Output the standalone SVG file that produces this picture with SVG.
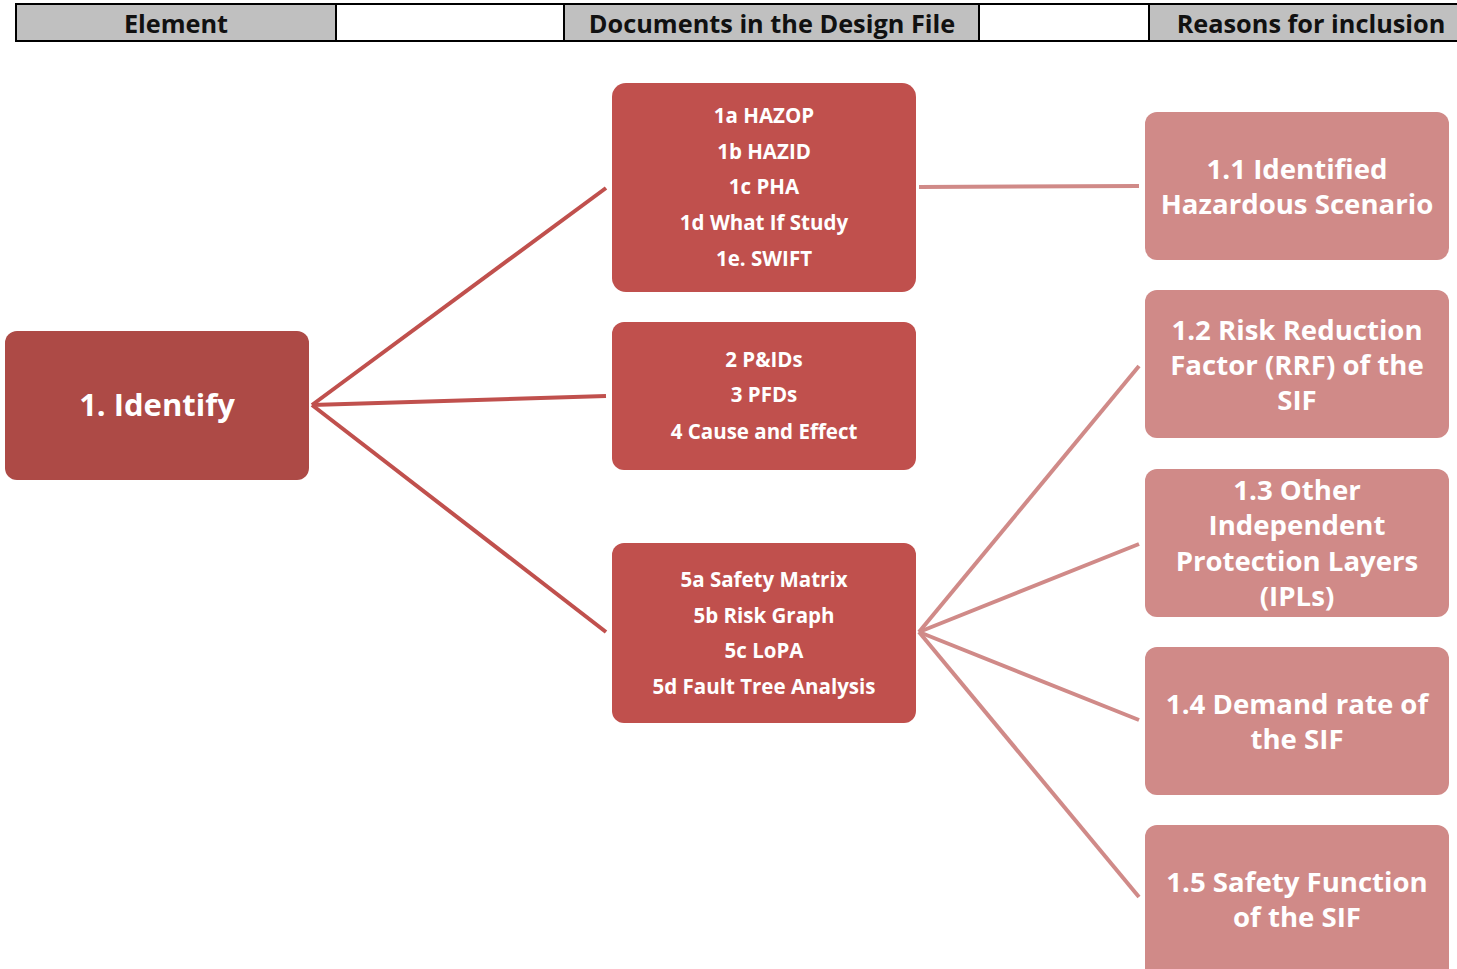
<svg xmlns="http://www.w3.org/2000/svg" width="1457" height="969" viewBox="0 0 1457 969">
  <style>
    .hdr { fill: #C0C0C0; stroke: #000; stroke-width: 2; }
    .hdr-blank { fill: #FFFFFF; stroke: #000; stroke-width: 2; }
    .hdr-text { font-family: "Open Sans", "Noto Sans", sans-serif; font-weight: bold; font-size: 25.3px; fill: #111; text-anchor: middle; }
    .root { fill: #AD4A46; }
    .doc { fill: #C0504D; }
    .reason { fill: #D08A88; }
    .t { font-family: "Open Sans", "Noto Sans", sans-serif; font-weight: bold; fill: #FFFFFF; text-anchor: middle; }
    .t-root { font-size: 31px; }
    .t-doc { font-size: 20.5px; }
    .t-reason { font-size: 27.6px; }
    .c-dark { stroke: #C0504D; stroke-width: 4; fill: none; }
    .c-light { stroke: #D08A88; stroke-width: 4; fill: none; }
  </style>

  <rect width="1457" height="969" fill="#FFFFFF"/>

  <!-- column header strip -->
  <g id="header">
    <rect class="hdr" x="16" y="4" width="320" height="37"/>
    <rect class="hdr-blank" x="336" y="4" width="228" height="37"/>
    <rect class="hdr" x="564" y="4" width="415" height="37"/>
    <rect class="hdr-blank" x="979" y="4" width="170" height="37"/>
    <rect class="hdr" x="1149" y="4" width="312" height="37"/>
    <text class="hdr-text" x="176" y="33">Element</text>
    <text class="hdr-text" x="772" y="33">Documents in the Design File</text>
    <text class="hdr-text" x="1311" y="33">Reasons for inclusion</text>
  </g>

  <!-- connectors -->
  <g id="connectors">
    <line class="c-dark" x1="312" y1="405" x2="606" y2="188"/>
    <line class="c-dark" x1="312" y1="405" x2="606" y2="396"/>
    <line class="c-dark" x1="312" y1="405" x2="606" y2="632"/>
    <line class="c-light" x1="919" y1="187" x2="1139" y2="186"/>
    <line class="c-light" x1="919" y1="632" x2="1139" y2="366"/>
    <line class="c-light" x1="919" y1="632" x2="1139" y2="544"/>
    <line class="c-light" x1="919" y1="632" x2="1139" y2="720"/>
    <line class="c-light" x1="919" y1="632" x2="1139" y2="897"/>
  </g>

  <g id="identify">
    <rect class="root" x="5" y="331" width="304" height="149" rx="12"/>
    <text class="t t-root" x="157" y="416">1. Identify</text>
  </g>

  <g id="doc-hazard-studies">
    <rect class="doc" x="612" y="83" width="304" height="209" rx="14"/>
    <text class="t t-doc" x="764" y="123">1a HAZOP</text>
    <text class="t t-doc" x="764" y="159">1b HAZID</text>
    <text class="t t-doc" x="764" y="194">1c PHA</text>
    <text class="t t-doc" x="764" y="230">1d What If Study</text>
    <text class="t t-doc" x="764" y="266">1e. SWIFT</text>
  </g>

  <g id="doc-drawings">
    <rect class="doc" x="612" y="322" width="304" height="148" rx="12"/>
    <text class="t t-doc" x="764" y="367">2 P&amp;IDs</text>
    <text class="t t-doc" x="764" y="402">3 PFDs</text>
    <text class="t t-doc" x="764" y="439">4 Cause and Effect</text>
  </g>

  <g id="doc-sil-methods">
    <rect class="doc" x="612" y="543" width="304" height="180" rx="12"/>
    <text class="t t-doc" x="764" y="587">5a Safety Matrix</text>
    <text class="t t-doc" x="764" y="623">5b Risk Graph</text>
    <text class="t t-doc" x="764" y="658">5c LoPA</text>
    <text class="t t-doc" x="764" y="694">5d Fault Tree Analysis</text>
  </g>

  <g id="reason-scenario">
    <rect class="reason" x="1145" y="112" width="304" height="148" rx="12"/>
    <text class="t t-reason" x="1297" y="179">1.1 Identified</text>
    <text class="t t-reason" x="1297" y="214">Hazardous Scenario</text>
  </g>

  <g id="reason-rrf">
    <rect class="reason" x="1145" y="290" width="304" height="148" rx="12"/>
    <text class="t t-reason" x="1297" y="340">1.2 Risk Reduction</text>
    <text class="t t-reason" x="1297" y="375">Factor (RRF) of the</text>
    <text class="t t-reason" x="1297" y="410">SIF</text>
  </g>

  <g id="reason-ipl">
    <rect class="reason" x="1145" y="469" width="304" height="148" rx="12"/>
    <text class="t t-reason" x="1297" y="500">1.3 Other</text>
    <text class="t t-reason" x="1297" y="535">Independent</text>
    <text class="t t-reason" x="1297" y="571">Protection Layers</text>
    <text class="t t-reason" x="1297" y="606">(IPLs)</text>
  </g>

  <g id="reason-demand">
    <rect class="reason" x="1145" y="647" width="304" height="148" rx="12"/>
    <text class="t t-reason" x="1297" y="714">1.4 Demand rate of</text>
    <text class="t t-reason" x="1297" y="749">the SIF</text>
  </g>

  <g id="reason-function">
    <rect class="reason" x="1145" y="825" width="304" height="160" rx="12"/>
    <text class="t t-reason" x="1297" y="892">1.5 Safety Function</text>
    <text class="t t-reason" x="1297" y="927">of the SIF</text>
  </g>
</svg>
